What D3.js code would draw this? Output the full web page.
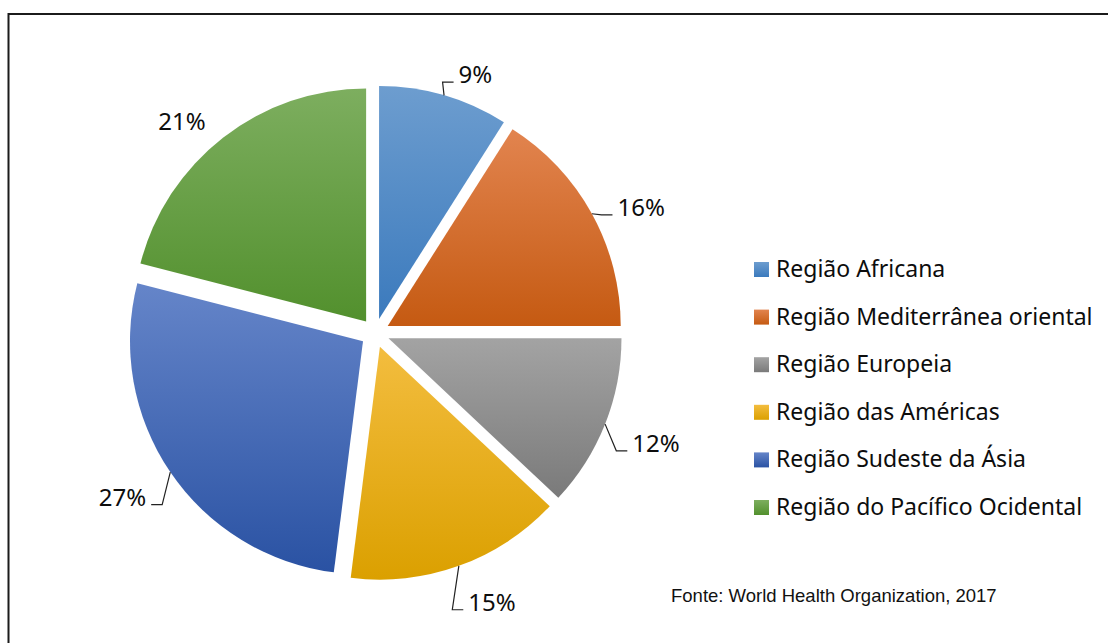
<!DOCTYPE html>
<html>
<head>
<meta charset="utf-8">
<script src="https://cdn.jsdelivr.net/npm/d3@7"></script>
<style>
  body { margin: 0; background: #fff; }
  svg { display: block; }
</style>
</head>
<body>
<div id="chart"></div>
<script>
// Data
const regions = ["Região Africana", "Região Mediterrânea oriental", "Região Europeia",
                 "Região das Américas", "Região Sudeste da Ásia", "Região do Pacífico Ocidental"];
const shares = [9, 16, 12, 15, 27, 21];
const colorTop = ["#6d9dcf", "#e2844f", "#a3a3a3", "#f3bd3f", "#6585c9", "#7dae5f"];
const colorBottom = ["#3b7abd", "#c55a12", "#7a7a7a", "#dba000", "#2a52a3", "#52902d"];
const source = "Fonte: World Health Organization, 2017";

// Configuration
const width = 1108;
const height = 643;
const cx = 375, cy = 333;
const radius = 233;
const explode = 14.5;

const svg = d3.select("#chart")
    .append("svg")
    .attr("width", width)
    .attr("height", height);

// gradients, light top -> dark bottom
const defs = svg.append("defs");
regions.forEach((r, i) => {
    const g = defs.append("linearGradient")
        .attr("id", "grad" + i)
        .attr("x1", 0).attr("y1", 0).attr("x2", 0).attr("y2", 1);
    g.append("stop").attr("offset", "0%").attr("stop-color", colorTop[i]);
    g.append("stop").attr("offset", "100%").attr("stop-color", colorBottom[i]);
});

// chart frame
svg.append("rect")
    .attr("x", 8.5).attr("y", 14)
    .attr("width", 1200).attr("height", 800)
    .attr("fill", "none")
    .attr("stroke", "#1b1b1b")
    .attr("stroke-width", 2);

const pie = d3.pie().sort(null).value(d => d)(shares);
const arc = d3.arc().innerRadius(0).outerRadius(radius);

const slices = svg.append("g").attr("transform", `translate(${cx},${cy})`);

pie.forEach((p, i) => {
    const mid = (p.startAngle + p.endAngle) / 2;
    p.mid = mid;
    p.ox = explode * Math.sin(mid);
    p.oy = -explode * Math.cos(mid);
});

slices.selectAll("path")
    .data(pie)
    .enter().append("path")
    .attr("transform", d => `translate(${d.ox},${d.oy})`)
    .attr("d", arc)
    .attr("fill", (d, i) => `url(#grad${i})`);

// data labels with leader lines
const labelFont = 24;
const labels = svg.append("g");
pie.forEach((p, i) => {
    const ux = Math.sin(p.mid), uy = -Math.cos(p.mid);
    const px = cx + p.ox + radius * ux;
    const py = cy + p.oy + radius * uy;
    const side = ux >= 0 ? 1 : -1;
    const lx = px + 30 * ux + side * 23;
    const ly = py + 30 * uy + 8;
    const base = ly + labelFont * 0.36;
    const t = labels.append("text")
        .attr("x", lx)
        .attr("y", base)
        .attr("text-anchor", "middle")
        .style("font-family", "'Noto Sans', sans-serif")
        .style("font-size", labelFont + "px")
        .attr("fill", "#0d0d0d")
        .text(shares[i] + "%");
    const w = t.node().getComputedTextLength();
    const edge = side > 0 ? lx - w / 2 : lx + w / 2;
    const ex = edge - side * 16, ey = base - 1;
    if (Math.hypot(ex - px, ey - py) > 9.5) {
        labels.append("polyline")
            .attr("points", [[px, py], [ex, ey], [edge - side * 5, ey]].map(q => q.join(",")).join(" "))
            .attr("fill", "none")
            .attr("stroke", "#222")
            .attr("stroke-width", 1.2);
    }
});

// legend
const legend = svg.selectAll(".legend")
    .data(regions)
    .enter().append("g")
    .attr("class", "legend")
    .attr("transform", (d, i) => `translate(754,${277 + i * 47.6})`);

legend.append("rect")
    .attr("x", 0)
    .attr("y", -15)
    .attr("width", 15)
    .attr("height", 15)
    .attr("fill", (d, i) => `url(#grad${i})`);

legend.append("text")
    .attr("x", 22)
    .attr("y", 0)
    .style("font-family", "'Noto Sans', sans-serif")
    .style("font-size", "23px")
    .attr("fill", "#0d0d0d")
    .text(d => d);

// source note
svg.append("text")
    .attr("x", 671)
    .attr("y", 602)
    .style("font-family", "'Liberation Sans', Arial, sans-serif")
    .style("font-size", "18.5px")
    .attr("fill", "#111")
    .text(source);
</script>
</body>
</html>
